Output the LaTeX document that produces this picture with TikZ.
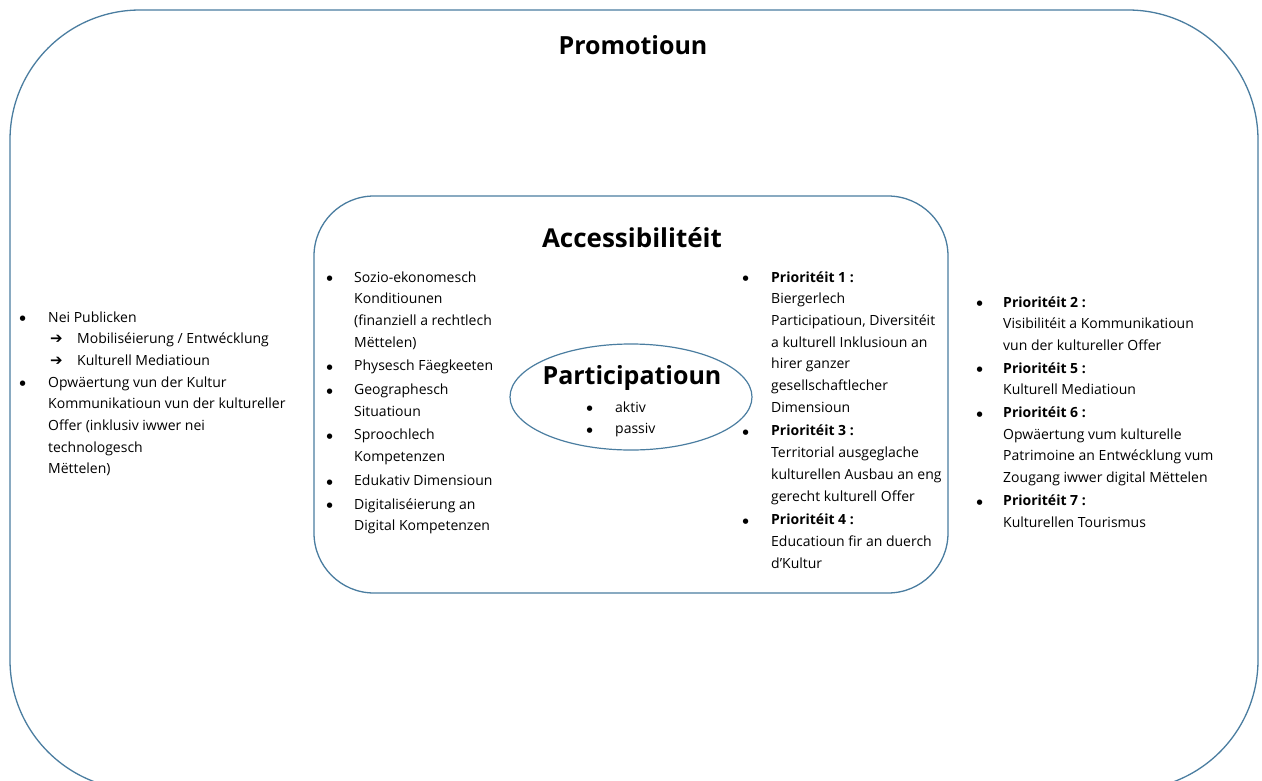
\documentclass[tikz,border=0pt]{standalone}
\usepackage{fontspec}
\setmainfont{Open Sans}
\newfontfamily\symfont{DejaVu Sans}
\usetikzlibrary{shapes.geometric}
\definecolor{frame}{HTML}{4A7DA0}
\newcommand{\bul}[1]{\makebox[#1][l]{\hspace{-0.5pt}\raisebox{1.2pt}{\symfont\fontsize{7}{7}\selectfont ●}}}
\newcommand{\arr}{\hspace{2pt}\makebox[27pt][l]{\symfont\bfseries\fontsize{15}{15}\selectfont ➔}}
\begin{document}
\begin{tikzpicture}[x=1pt,y=-1pt,
  box/.style={draw=frame,line width=1.3pt},
  title/.style={font=\fontsize{25}{28}\selectfont\bfseries,inner sep=0pt},
  list/.style={inner sep=0pt,anchor=base west,font=\fontsize{14}{21.7}\selectfont}]
\useasboundingbox (0,0) rectangle (1262,780);
\clip (0,0) rectangle (1262,780);
\fill[white] (0,0) rectangle (1262,780);
% outer frame
\draw[box,rounded corners=130pt] (10,10) rectangle (1258,790);
\node[title] (promo) at (633,45) {Promotioun};
% inner frame
\draw[box,rounded corners=60pt] (314,196) rectangle (948,593);
\node[title,font=\fontsize{26}{28}\selectfont\bfseries] (access) at (632,238) {Accessibilitéit};
% ellipse
\node[ellipse,draw=frame,line width=1.2pt,minimum width=242pt,minimum height=106pt,inner sep=0pt] (part) at (631,397) {};
\node[title] (parttitle) at (632,378) {Participatioun};
\node[list] (partlist) at (587,412) {\begin{tabular}[t]{@{}l@{}l@{}}
\bul{28pt} & aktiv\\
\bul{28pt} & passiv
\end{tabular}};
% outer left list
\node[list] (leftlist) at (20,322) {\begin{tabular}[t]{@{}l@{}l@{}}
\bul{28pt} & Nei Publicken\\
 & \arr Mobiliséierung / Entwécklung\\
 & \arr Kulturell Mediatioun\\
\bul{28pt} & Opwäertung vun der Kultur\\
 & Kommunikatioun vun der kultureller\\
 & Offer (inklusiv iwwer nei\\
 & technologesch\\
 & Mëttelen)
\end{tabular}};
% inner left list
\node[list] (innerleft) at (327,282) {\begin{tabular}[t]{@{}l@{}l@{}}
\bul{27pt} & Sozio-ekonomesch\\
 & Konditiounen\\
 & (finanziell a rechtlech\\
 & Mëttelen)\\[2pt]
\bul{27pt} & Physesch Fäegkeeten\\[2pt]
\bul{27pt} & Geographesch\\
 & Situatioun\\[2pt]
\bul{27pt} & Sproochlech\\
 & Kompetenzen\\[2pt]
\bul{27pt} & Edukativ Dimensioun\\[2pt]
\bul{27pt} & Digitaliséierung an\\
 & Digital Kompetenzen
\end{tabular}};
% inner right list
\node[list] (innerright) at (743,282) {\begin{tabular}[t]{@{}l@{}l@{}}
\bul{28pt} & \textbf{Prioritéit 1 :}\\
 & Biergerlech\\
 & Participatioun, Diversitéit\\
 & a kulturell Inklusioun an\\
 & hirer ganzer\\
 & gesellschaftlecher\\
 & Dimensioun\\[2pt]
\bul{28pt} & \textbf{Prioritéit 3 :}\\
 & Territorial ausgeglache\\
 & kulturellen Ausbau an eng\\
 & gerecht kulturell Offer\\[2pt]
\bul{28pt} & \textbf{Prioritéit 4 :}\\
 & Educatioun fir an duerch\\
 & d’Kultur
\end{tabular}};
% outer right list
\node[list] (outerright) at (977,307) {\begin{tabular}[t]{@{}l@{}l@{}}
\bul{26pt} & \textbf{Prioritéit 2 :}\\
 & Visibilitéit a Kommunikatioun\\
 & vun der kultureller Offer\\[1pt]
\bul{26pt} & \textbf{Prioritéit 5 :}\\
 & Kulturell Mediatioun\\[1pt]
\bul{26pt} & \textbf{Prioritéit 6 :}\\
 & Opwäertung vum kulturelle\\
 & Patrimoine an Entwécklung vum\\
 & Zougang iwwer digital Mëttelen\\[1pt]
\bul{26pt} & \textbf{Prioritéit 7 :}\\
 & Kulturellen Tourismus
\end{tabular}};
\end{tikzpicture}
\end{document}
